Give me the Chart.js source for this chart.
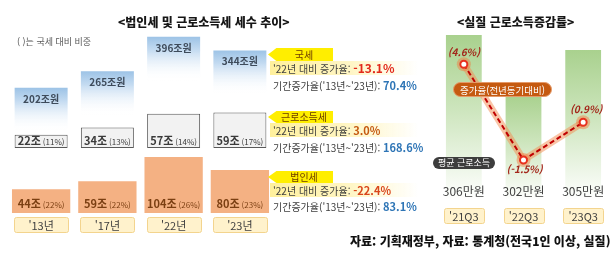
<!DOCTYPE html>
<html lang="ko">
<head>
<meta charset="utf-8">
<script src="https://cdn.jsdelivr.net/npm/chart.js@4"></script>
<style>
  html, body { margin: 0; padding: 0; background: #fff; overflow: hidden; }
  body { width: 616px; height: 254px; position: relative; font-family: "Noto Sans CJK KR", "Noto Sans", sans-serif; color: #404040; }
  canvas { position: absolute; top: 0; }
  #left { left: 0; }
  #right { left: 420px; }
  .txt { position: absolute; white-space: nowrap; }
  .title { font-size: 12px; font-weight: 900; color: #161616; line-height: 16px; }
  .note { font-size: 9px; color: #595959; line-height: 12px; }
  .tag { position: absolute; background: #ffee00; font-size: 10px; text-align: center; color: #6b3a00; padding-left: 7px; box-sizing: border-box;
         clip-path: polygon(0 50%, 13% 0, 100% 0, 100% 100%, 13% 100%); }
  .band { position: absolute; background: linear-gradient(90deg, #fff09c 0%, #fff6c6 55%, rgba(255,252,230,0) 100%); }
  .ln { position: absolute; font-size: 10px; line-height: 14px; white-space: nowrap; color: #404040; }
  .ln b { font-weight: 700; }
  .red { color: #e2291b; font-size: 12px; }
  .org { color: #c55a11; font-size: 11px; }
  .org2 { color: #d9461a; font-size: 11px; }
  .blue { color: #2e75b6; font-size: 11px; }
  .pill { position: absolute; color: #fff; text-align: center; white-space: nowrap; box-sizing: border-box; }
  .src { font-size: 12px; font-weight: 900; color: #111; line-height: 16px; }
</style>
</head>
<body>
<canvas id="left" width="280" height="254"></canvas>
<canvas id="right" width="200" height="254"></canvas>

<div class="txt title" style="left:118px;top:14px">&lt;법인세 및 근로소득세 세수 추이&gt;</div>
<div class="txt title" style="left:457px;top:14px">&lt;실질 근로소득증감률&gt;</div>
<div class="txt note" style="left:17px;top:36px">( )는 국세 대비 비중</div>

<!-- 국세 -->
<div class="band" style="left:270px;top:61px;width:148px;height:14px"></div>
<div class="tag" style="left:268px;top:48px;width:65px;height:13px;line-height:13px">국세</div>
<div class="ln" style="left:273px;top:61px">'22년 대비 증가율: <b class="red">-13.1%</b></div>
<div class="ln" style="left:273px;top:78px">기간증가율('13년~'23년): <b class="blue">70.4%</b></div>

<!-- 근로소득세 -->
<div class="band" style="left:270px;top:123px;width:148px;height:14px"></div>
<div class="tag" style="left:268px;top:111px;width:65px;height:12px;line-height:12px">근로소득세</div>
<div class="ln" style="left:273px;top:123px">'22년 대비 증가율: <b class="org">3.0%</b></div>
<div class="ln" style="left:273px;top:140px">기간증가율('13년~'23년): <b class="blue">168.6%</b></div>

<!-- 법인세 -->
<div class="band" style="left:270px;top:183px;width:148px;height:14px"></div>
<div class="tag" style="left:268px;top:171px;width:65px;height:12px;line-height:12px">법인세</div>
<div class="ln" style="left:273px;top:183px">'22년 대비 증가율: <b class="org2">-22.4%</b></div>
<div class="ln" style="left:273px;top:199px">기간증가율('13년~'23년): <b class="blue">83.1%</b></div>

<div class="pill" style="left:453px;top:82px;width:99px;height:15px;line-height:15px;font-size:9.5px;background:#c55a11;border:1px solid #e59a6a;border-radius:8px">증가율(전년동기대비)</div>
<div class="pill" style="left:433px;top:157px;width:62px;height:12px;line-height:12px;font-size:9px;background:#3d3d3d;border-radius:6px">평균 근로소득</div>

<div class="txt src" style="left:350px;top:233px">자료: 기획재정부, 자료: 통계청(전국1인 이상, 실질)</div>

<script>
// ---- data: 법인세 및 근로소득세 세수 (조원) ----
const years = ["'13년", "'17년", "'22년", "'23년"];
const totalTax = [202, 265, 396, 344];     // 국세
const laborTax = [22, 34, 57, 59];         // 근로소득세
const laborShare = [11, 13, 14, 17];       // 국세 대비 비중 (%)
const corpTax = [44, 59, 104, 80];         // 법인세
const corpShare = [22, 22, 26, 23];

// ---- data: 실질 근로소득 ----
const quarters = ["'21Q3", "'22Q3", "'23Q3"];
const avgIncome = [306, 302, 305];         // 만원
const incomeGrowth = [4.6, -1.5, 0.9];     // 전년동기대비 %

const FONT = '"Noto Sans CJK KR", "Noto Sans", sans-serif';

function blueFade(ctx) {
  const sc = ctx.chart.scales.yT;
  if (!sc || ctx.type !== 'data') return '#9dc3e6';
  const top = sc.getPixelForValue(ctx.raw);
  if (!Number.isFinite(top)) return '#9dc3e6';
  const g = ctx.chart.ctx.createLinearGradient(0, top, 0, top + 44);
  g.addColorStop(0, '#9dc3e6');
  g.addColorStop(0.3, '#c4dbf1');
  g.addColorStop(1, 'rgba(255,255,255,0)');
  return g;
}

function greenFade(ctx) {
  const chart = ctx.chart;
  const sc = chart.scales.yB;
  if (!sc || !chart.chartArea || ctx.type !== 'data') return '#a9d18e';
  const top = sc.getPixelForValue(ctx.raw);
  const bottom = chart.chartArea.bottom;
  if (!Number.isFinite(top) || !Number.isFinite(bottom)) return '#a9d18e';
  const g = chart.ctx.createLinearGradient(0, top, 0, bottom);
  g.addColorStop(0, '#a9d18e');
  g.addColorStop(0.45, '#cde5bd');
  g.addColorStop(1, '#ffffff');
  return g;
}

// small boxed category label (year / quarter)
function labelBox(c, cx, top, w, h, text) {
  c.save();
  c.fillStyle = '#fff2cc';
  c.strokeStyle = '#f3d48e';
  c.lineWidth = 1;
  c.beginPath();
  c.roundRect(Math.round(cx - w / 2) + 0.5, top + 0.5, w, h, 2);
  c.fill();
  c.stroke();
  c.fillStyle = '#404040';
  c.font = '11px ' + FONT;
  c.textAlign = 'center';
  c.textBaseline = 'middle';
  c.fillText(text, cx, top + h / 2 + 1);
  c.restore();
}

// "44조 (22%)" style label, centered
function twoPart(c, cx, y, main, sub, color) {
  c.save();
  c.textBaseline = 'alphabetic';
  c.textAlign = 'left';
  c.font = 'bold 11px ' + FONT;
  const w1 = c.measureText(main).width;
  c.font = '8px ' + FONT;
  const w2 = c.measureText(sub).width;
  const x0 = cx - (w1 + 2 + w2) / 2;
  c.fillStyle = color;
  c.font = 'bold 11px ' + FONT;
  c.fillText(main, x0, y);
  c.font = '8px ' + FONT;
  c.fillText(sub, x0 + w1 + 2, y);
  c.restore();
}

const leftLabels = {
  id: 'leftLabels',
  afterDatasetsDraw(chart) {
    const c = chart.ctx;
    c.save();
    c.font = 'bold 10px ' + FONT;
    c.fillStyle = '#3e4b5b';
    c.textAlign = 'center';
    c.textBaseline = 'middle';
    chart.getDatasetMeta(2).data.forEach((bar, i) => {
      c.fillText(totalTax[i] + '조원', bar.x, bar.y + 11);
    });
    c.restore();
    chart.getDatasetMeta(1).data.forEach((bar, i) => {
      twoPart(c, bar.x, bar.base - 3, laborTax[i] + '조', '(' + laborShare[i] + '%)', '#3a3a3a');
    });
    chart.getDatasetMeta(0).data.forEach((bar, i) => {
      twoPart(c, bar.x, bar.base - 5, corpTax[i] + '조', '(' + corpShare[i] + '%)', '#7b3f12');
    });
    const xs = chart.scales.x;
    years.forEach((y, i) => labelBox(c, xs.getPixelForValue(i), 217, 54, 15, y));
  }
};

new Chart(document.getElementById('left'), {
  type: 'bar',
  data: {
    labels: years,
    datasets: [
      { label: '법인세', data: corpTax, yAxisID: 'yC', backgroundColor: '#f4b183',
        barPercentage: 0.88, categoryPercentage: 1, grouped: false },
      { label: '근로소득세', data: laborTax, yAxisID: 'yW', backgroundColor: '#f2f2f2',
        borderColor: '#595959', borderWidth: 1, borderSkipped: false,
        barPercentage: 0.8, categoryPercentage: 1, grouped: false },
      { label: '국세', data: totalTax, yAxisID: 'yT', backgroundColor: blueFade,
        barPercentage: 0.8, categoryPercentage: 1, grouped: false }
    ]
  },
  options: {
    responsive: false,
    animation: false,
    layout: { padding: { left: 8, right: 7, top: 30, bottom: 41 } },
    plugins: { legend: { display: false }, tooltip: { enabled: false } },
    scales: {
      x: { display: false },
      yC: { display: false, min: 0, max: 340 },
      yW: { display: false, min: -108.3, max: 196.7 },
      yT: { display: false, min: -273.8, max: 422 }
    }
  },
  plugins: [leftLabels]
});

const rightLabels = {
  id: 'rightLabels',
  afterDatasetsDraw(chart) {
    const c = chart.ctx;
    const offY = [-12, 9, -13];
    const offX = [0, 1, 3];
    c.save();
    c.font = 'italic bold 10px ' + FONT;
    c.fillStyle = '#a3261a';
    c.textAlign = 'center';
    c.textBaseline = 'middle';
    chart.getDatasetMeta(0).data.forEach((pt, i) => {
      c.fillText('(' + incomeGrowth[i].toFixed(1) + '%)', pt.x + offX[i], pt.y + offY[i]);
    });
    c.font = '12px ' + FONT;
    c.fillStyle = '#404040';
    chart.getDatasetMeta(2).data.forEach((bar, i) => {
      c.fillText(avgIncome[i] + '만원', bar.x, 191);
    });
    c.restore();
    const xs = chart.scales.x;
    quarters.forEach((q, i) => labelBox(c, xs.getPixelForValue(i), 208, 40, 15, q));
  }
};

new Chart(document.getElementById('right'), {
  type: 'bar',
  data: {
    labels: quarters,
    datasets: [
      { type: 'line', data: incomeGrowth, yAxisID: 'yP', borderColor: '#c00000', borderWidth: 2,
        borderDash: [5, 3], tension: 0, pointRadius: 3.5, pointBackgroundColor: '#ffffff',
        pointBorderColor: '#e8311e', pointBorderWidth: 2 },
      { type: 'line', data: incomeGrowth, yAxisID: 'yP', borderColor: 'rgba(244,140,80,0.5)', borderWidth: 7,
        tension: 0, pointRadius: 7, pointBackgroundColor: 'rgba(244,120,60,0.45)', pointBorderWidth: 0 },
      { data: avgIncome, yAxisID: 'yB', backgroundColor: greenFade,
        barPercentage: 0.6, categoryPercentage: 1 }
    ]
  },
  options: {
    responsive: false,
    animation: false,
    layout: { padding: { left: 14, right: 1, top: 30, bottom: 54 } },
    plugins: { legend: { display: false }, tooltip: { enabled: false } },
    scales: {
      x: { display: false, offset: true },
      yB: { display: false, min: 295, max: 306.333 },
      yP: { display: false, min: -4.05, max: 6.78 }
    }
  },
  plugins: [rightLabels]
});
</script>
</body>
</html>
